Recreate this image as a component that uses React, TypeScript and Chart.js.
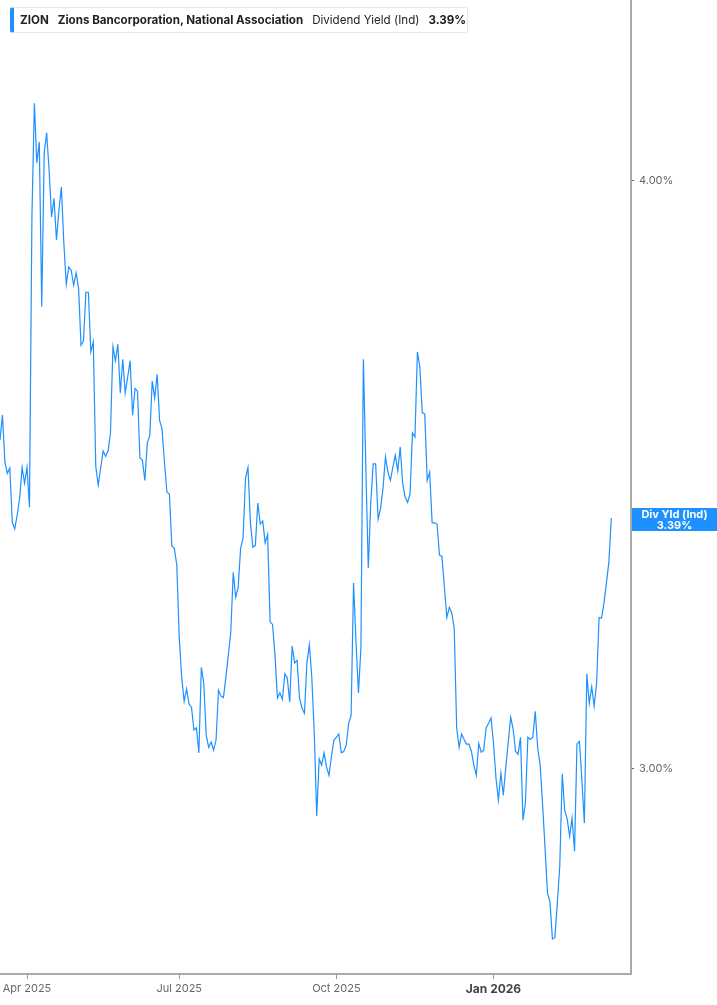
import { useEffect, useRef } from "react";
import { Chart, registerables } from "chart.js";

Chart.register(...registerables);

// ZION dividend yield (%), one value per trading day, mid-Mar 2025 .. mid-Mar 2026
const yieldValues = [
  3.523, 3.566, 3.485, 3.466, 3.475, 3.384, 3.373, 3.396, 3.424, 3.476,
  3.449, 3.476, 3.409, 3.929, 4.154, 4.034, 4.076, 3.76, 4.054, 4.094,
  4.02, 3.929, 3.965, 3.885, 3.942, 3.987, 3.879, 3.802, 3.834, 3.828,
  3.8, 3.823, 3.795, 3.69, 3.698, 3.787, 3.787, 3.678, 3.696,
  3.478, 3.446, 3.475, 3.504, 3.495, 3.504, 3.535, 3.687, 3.662, 3.692,
  3.605, 3.665, 3.605, 3.633, 3.662, 3.566, 3.613, 3.608, 3.492, 3.488,
  3.454, 3.518, 3.53, 3.626, 3.596, 3.638, 3.557, 3.542, 3.483, 3.434,
  3.431, 3.345, 3.341, 3.314, 3.199, 3.137, 3.1, 3.119, 3.096, 3.091,
  3.057, 3.06, 3.023, 3.152, 3.128, 3.049, 3.031, 3.039, 3.027, 3.042,
  3.117, 3.108, 3.106, 3.137, 3.171, 3.207, 3.302, 3.262, 3.278, 3.341,
  3.358, 3.458, 3.476, 3.383, 3.343, 3.346, 3.416, 3.381, 3.386, 3.35,
  3.364, 3.223, 3.219, 3.171, 3.105, 3.113,
  3.103, 3.142, 3.136, 3.099, 3.185, 3.159, 3.163, 3.105, 3.09, 3.082,
  3.159, 3.187, 3.136, 3.052, 2.931, 3.014, 3.005, 3.023, 3.002, 2.99,
  3.018, 3.042, 3.046, 3.051, 3.023, 3.025, 3.034, 3.067, 3.079, 3.285,
  3.191, 3.113, 3.183, 3.665, 3.476, 3.309, 3.416, 3.482, 3.482, 3.389,
  3.407, 3.441, 3.494, 3.468, 3.454, 3.476, 3.497, 3.47, 3.511, 3.449,
  3.426, 3.417, 3.431, 3.535, 3.528, 3.678, 3.651, 3.57, 3.568, 3.454,
  3.468, 3.383, 3.383, 3.381, 3.33, 3.328,
  3.278, 3.23, 3.246, 3.237, 3.213, 3.06, 3.031, 3.051, 3.043, 3.036,
  3.036, 3.025, 3.005, 2.99, 3.037, 3.024, 3.027, 3.06, 3.067, 3.075,
  3.037, 2.986, 2.954, 2.993, 2.961, 3.002, 3.039, 3.076, 3.058, 3.025,
  3.021, 3.046, 2.925, 2.95, 3.046, 3.043, 3.046, 3.085, 3.03, 3.005,
  2.947, 2.885, 2.822, 2.81, 2.76, 2.762, 2.809, 2.861, 2.992, 2.939,
  2.927, 2.902, 2.928, 2.881, 3.036, 3.04, 2.983, 2.921, 3.142, 3.097,
  3.122, 3.093, 3.129, 3.23, 3.229, 3.253, 3.285, 3.319, 3.391,
];

// trading-day index of the first session of each labelled month
const monthTickIndex = [11, 73, 137, 201];
const monthTickLabels = ["Apr 2025", "Jul 2025", "Oct 2025", "Jan 2026"];
const yieldTicks = [3, 4];

const ticker = "ZION";
const companyName = "Zions Bancorporation, National Association";
const metricName = "Dividend Yield (Ind)";
const tagName = "Div Yld (Ind)";

const BLUE = "#1E90FF";

const lastValueTag = {
  id: "lastValueTag",
  afterDraw(chart: any) {
    const { ctx, chartArea } = chart;
    const last = yieldValues[yieldValues.length - 1];
    const y = chart.scales.y.getPixelForValue(last);
    const left = chartArea.right + 1;
    const w = chart.width - left;
    ctx.save();
    ctx.fillStyle = BLUE;
    ctx.fillRect(left, y - 10, w, 23);
    ctx.fillStyle = "#fff";
    ctx.font = "bold 11px Inter";
    ctx.textAlign = "center";
    ctx.textBaseline = "middle";
    ctx.fillText(tagName, left + w / 2, y - 3.5);
    ctx.fillText(last.toFixed(2) + "%", left + w / 2, y + 7.5);
    ctx.restore();
  },
};

function YieldChart() {
  const canvasRef = useRef<HTMLCanvasElement>(null);

  useEffect(() => {
    if (!canvasRef.current) return;

    const chart = new Chart(canvasRef.current, {
      type: "line",
      data: {
        datasets: [
          {
            label: metricName,
            data: yieldValues.map((v, i) => ({ x: i, y: v })),
            borderColor: BLUE,
            borderWidth: 1.2,
            pointRadius: 0,
            tension: 0,
            fill: false,
          },
        ],
      },
      options: {
        animation: false,
        responsive: false,
        layout: { padding: 0 },
        plugins: {
          legend: { display: false },
          tooltip: { enabled: false },
        },
        scales: {
          x: {
            type: "linear",
            bounds: "data",
            min: 0,
            max: 257,
            afterBuildTicks: (s: any) => {
              s.ticks = monthTickIndex.map((v) => ({ value: v }));
            },
            afterFit: (s: any) => {
              s.height = 31;
              s.paddingLeft = 0;
              s.paddingRight = 0;
            },
            grid: {
              drawOnChartArea: false,
              tickLength: 5,
              tickColor: "#999",
              tickWidth: 1,
            },
            border: { color: "#aaa", width: 2 },
            ticks: {
              autoSkip: false,
              maxRotation: 0,
              padding: 3,
              callback: (v: any) => monthTickLabels[monthTickIndex.indexOf(Number(v))] ?? "",
              color: (c: any) => (c.tick?.value === 201 ? "#444" : "#666"),
              font: (c: any) =>
                c.tick?.value === 201
                  ? { family: "Inter", size: 12, weight: "bold" }
                  : { family: "Inter", size: 11 },
            },
          },
          y: {
            type: "logarithmic",
            position: "right",
            bounds: "data",
            min: 2.713,
            max: 4.369,
            afterBuildTicks: (s: any) => {
              s.ticks = yieldTicks.map((v) => ({ value: v }));
            },
            afterFit: (s: any) => {
              s.width = 86;
              s.paddingTop = 0;
              s.paddingBottom = 0;
            },
            grid: {
              drawOnChartArea: false,
              tickLength: 3,
              tickColor: "#666",
            },
            border: { color: "#aaa", width: 2 },
            ticks: {
              padding: 5,
              color: "#666",
              font: { family: "Inter", size: 11 },
              callback: (v: any) => Number(v).toFixed(2) + "%",
            },
          },
        },
      },
      plugins: [lastValueTag],
    });

    return () => {
      chart.destroy();
    };
  }, []);

  return <canvas ref={canvasRef} width={717} height={1005} style={{ display: "block" }}></canvas>;
}

export default function App() {
  useEffect(() => {
    document.body.style.margin = "0";
  }, []);

  return (
    <div style={{ position: "relative", width: 717, height: 1005, fontFamily: "Inter, sans-serif" }}>
      <YieldChart />
      <div
        style={{
          position: "absolute",
          left: 10,
          top: 7,
          height: 26,
          width: 458,
          boxSizing: "border-box",
          background: "#fff",
          border: "1px solid #e6e6e6",
          borderLeft: `4px solid ${BLUE}`,
          borderRadius: 3,
          display: "flex",
          alignItems: "center",
          paddingLeft: 6,
          fontSize: 11.6,
          color: "#222",
          whiteSpace: "nowrap",
        }}
      >
        <span style={{ fontWeight: 700 }}>{ticker}</span>
        <span style={{ fontWeight: 700, marginLeft: 9 }}>{companyName}</span>
        <span style={{ marginLeft: 9 }}>{metricName}</span>
        <span style={{ fontWeight: 700, marginLeft: 9 }}>{yieldValues[yieldValues.length - 1].toFixed(2)}%</span>
      </div>
    </div>
  );
}
